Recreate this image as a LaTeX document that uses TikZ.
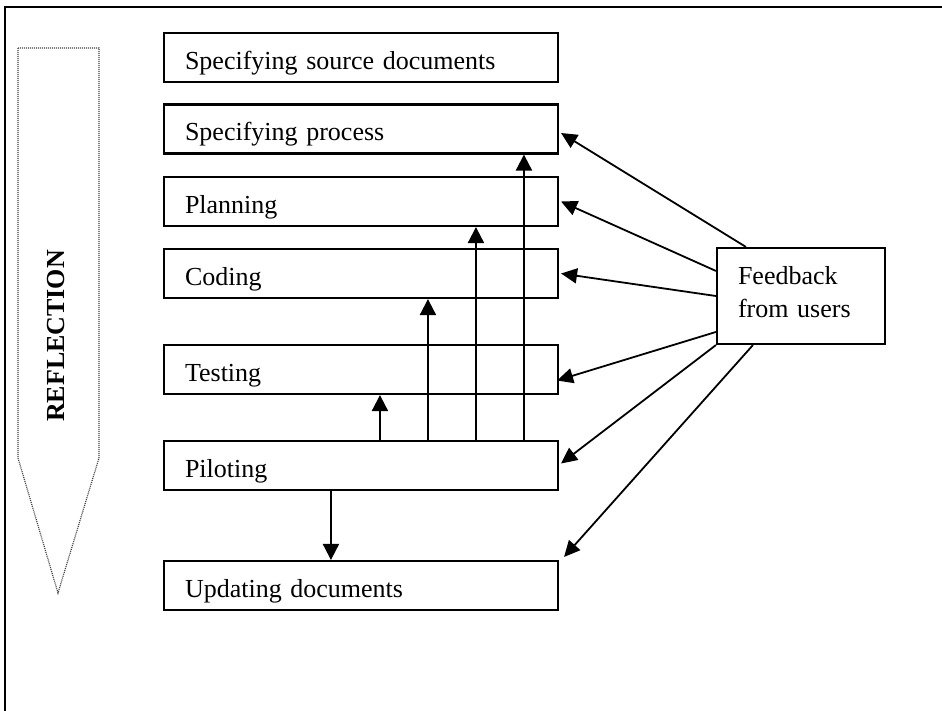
\documentclass[tikz,border=0pt]{standalone}
\usepackage{fontspec}
\setmainfont{Liberation Serif}
\usetikzlibrary{arrows.meta}
\begin{document}
\begin{tikzpicture}[x=1pt,y=-1pt,
  txt/.style={font=\fontsize{26}{33}\selectfont},
  stage/.style={txt, draw, line width=2.1pt, minimum width=394pt, minimum height=49pt,
    text width=352pt, align=left, inner xsep=21pt, inner ysep=0pt,
    text height=23pt, text depth=0pt},
  fbbox/.style={txt, draw, line width=2.1pt, minimum width=168pt,
    text width=126pt, align=left, inner xsep=21pt, inner ysep=0pt,
    text height=36pt, text depth=60pt},
  upflow/.style={line width=2pt, -{Triangle[length=16pt,width=16pt]}},
  fbflow/.style={line width=1.8pt, -{Triangle[length=16pt,width=15pt]}},
  hint/.style={draw=black!75, line width=1.2pt, dash pattern=on 1pt off 1pt}
]
\useasboundingbox (0,0) rectangle (942,710);

% outer frame
\draw[line width=2.8pt] (5,712) -- (5,7) -- (944,7);

% reflection arrow
\draw[hint] (18,48) -- (99,48) -- (99,458) -- (58,593) -- (18,458) -- cycle;
\node[rotate=90, font=\bfseries\fontsize{26}{33}\selectfont, inner sep=0pt] (refl) at (56,336) {REFLECTION};

% stages
\node[stage] (ss) at (361,57.5)  {Specifying source documents};
\node[stage] (sp) at (361,129)   {Specifying process};
\node[stage] (pl) at (361,201.5) {Planning};
\node[stage] (co) at (361,273.5) {Coding};
\node[stage] (te) at (361,369.5) {Testing};
\node[stage] (pi) at (361,465.5) {Piloting};
\node[stage] (up) at (361,585.5) {Updating documents};

% feedback box
\node[fbbox] (fb) at (801,296) {Feedback\\from users};

% piloting feeds back into earlier stages
\draw[upflow] ([xshift=217pt]pi.north west) -- ([xshift=217pt]te.south west);
\draw[upflow] ([xshift=265pt]pi.north west) -- ([xshift=265pt]co.south west);
\draw[upflow] ([xshift=313pt]pi.north west) -- ([xshift=313pt]pl.south west);
\draw[upflow] ([xshift=361pt]pi.north west) -- ([xshift=361pt]sp.south west);
\draw[upflow] ([xshift=168pt]pi.south west) -- ([xshift=168pt]up.north west);

% user feedback
\draw[fbflow] ([xshift=30pt]fb.north west) -- ([xshift=2pt,yshift=-4pt]sp.east);
\draw[fbflow] ([yshift=-24pt]fb.north west) -- ([xshift=2pt]pl.east);
\draw[fbflow] (fb.west) -- ([xshift=2pt]co.east);
\draw[fbflow] ([yshift=-85pt]fb.north west) -- ([xshift=-2pt,yshift=-11pt]te.east);
\draw[fbflow] (fb.south west) -- ([xshift=2pt,yshift=2pt]pi.east);
\draw[fbflow] ([xshift=37pt]fb.south west) -- ([xshift=5pt,yshift=3pt]up.north east);
\end{tikzpicture}
\end{document}
